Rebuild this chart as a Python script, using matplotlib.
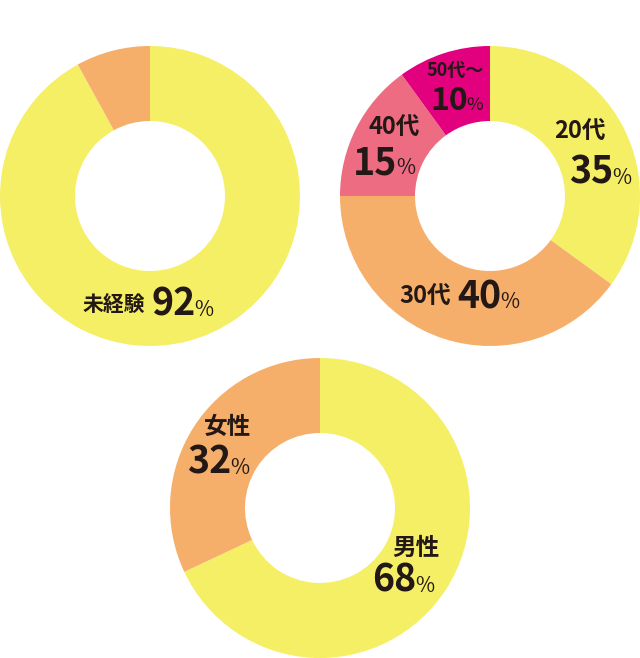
import matplotlib
matplotlib.use('Agg')

import matplotlib.pyplot   as plt
from matplotlib.offsetbox  import TextArea, HPacker, AnnotationBbox

plt.rcParams['font.family'] = ['Noto Sans CJK JP', 'DejaVu Sans']

# ===== Data
exp_labels   = ['未経験', '経験者']
exp_values   = [92, 8]

age_labels   = ['20代', '30代', '40代', '50代～']
age_values   = [35, 40, 15, 10]

sex_labels   = ['男性', '女性']
sex_values   = [68, 32]

# ===== Colors
YELLOW  = '#F5EF66'
ORANGE  = '#F5AF6A'
PINK    = '#ED6C82'
MAGENTA = '#E2007F'
INK     = '#231815'

W, H = 640, 658

fig = plt.figure(figsize=(W/100, H/100), dpi=100)
ax  = fig.add_axes([0, 0, 1, 1])

def donut(values, colors, cx, cy, r=150, w=75):
   ax.pie(values, colors=colors, startangle=90, counterclock=False,
          center=(cx, H-cy), radius=r,
          wedgeprops=dict(width=w, linewidth=0))

def label(x, y, row, sep=-1):
   '''row: list of (text, size, weight), packed on one baseline'''
   items = [TextArea(t, textprops=dict(fontsize=s, fontweight=wt, color=INK))
            for t, s, wt in row]
   box = HPacker(children=items, align='baseline', pad=0, sep=sep)
   ab  = AnnotationBbox(box, (x, H-y), frameon=False, box_alignment=(0.5, 0.5))
   ax.add_artist(ab)

# Donuts
donut(exp_values, [YELLOW, ORANGE],                150, 196)
donut(age_values, [YELLOW, ORANGE, PINK, MAGENTA], 490, 196)
donut(sex_values, [YELLOW, ORANGE],                320, 508)

BIG, MID, PCT = 27, 17, 15
LW = 'bold'

# Labels
label(114, 305, [(exp_labels[0], 15, LW)])
label(182, 304, [(str(exp_values[0]), BIG, 'bold'), ('%', PCT, 'normal')])

label(580, 132, [(age_labels[0], MID, LW)])
label(600, 172, [(str(age_values[0]), BIG, 'bold'), ('%', PCT, 'normal')])
label(425, 297, [(age_labels[1], MID, LW)])
label(488, 297, [(str(age_values[1]), BIG, 'bold'), ('%', PCT, 'normal')])
label(394, 128, [(age_labels[2], MID, LW)])
label(384, 163, [(str(age_values[2]), BIG, 'bold'), ('%', PCT, 'normal')])
label(455,  71, [(age_labels[3], 13, LW)])
label(457, 101, [(str(age_values[3]), 23, 'bold'), ('%', 13, 'normal')])

label(416, 548, [(sex_labels[0], MID, LW)])
label(403, 580, [(str(sex_values[0]), BIG, 'bold'), ('%', PCT, 'normal')])
label(228, 427, [(sex_labels[1], MID, LW)])
label(218, 462, [(str(sex_values[1]), BIG, 'bold'), ('%', PCT, 'normal')])

ax.set_xlim(0, W)
ax.set_ylim(0, H)
ax.set_aspect('equal')
ax.axis('off')

plt.savefig('out.png', dpi=100, facecolor='white')
plt.close()
